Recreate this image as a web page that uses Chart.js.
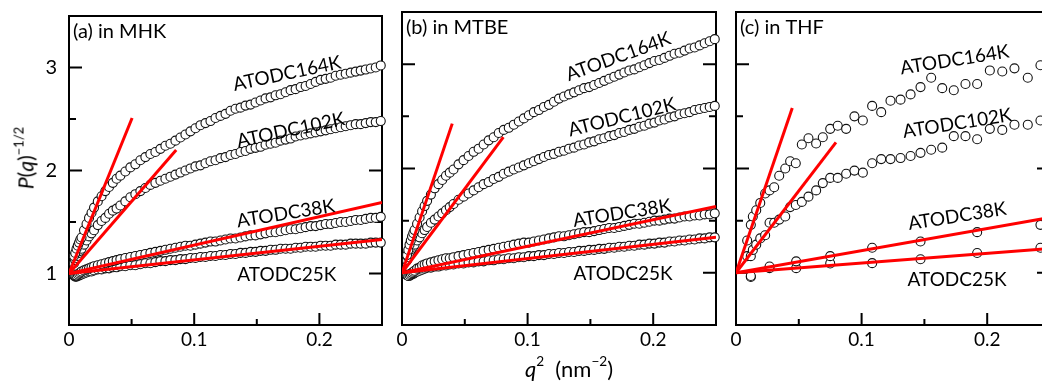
<!DOCTYPE html>
<html>
<head>
<meta charset="utf-8">
<script src="https://cdn.jsdelivr.net/npm/chart.js@4.4.1/dist/chart.umd.min.js"></script>
<style>
  html, body { margin: 0; padding: 0; background: #fff; overflow: hidden; width: 1042px; height: 382px; }
  canvas { position: absolute; left: 0; top: 0; }
  .ttl { position: absolute; font-family: Lato, sans-serif; color: #000; white-space: nowrap; }
  #ytitle { left: 25px; top: 158px; font-size: 21px; transform: translate(-50%, -50%) rotate(-90deg); }
  #xtitle { left: 569px; top: 368px; font-size: 22px; transform: translate(-50%, -50%); }
  .ttl sup { font-size: 0.62em; vertical-align: 0.75em; line-height: 0; }
</style>
</head>
<body>
<canvas id="panelA" width="1060" height="382"></canvas>
<canvas id="panelB" width="1060" height="382"></canvas>
<canvas id="panelC" width="1060" height="382"></canvas>
<div class="ttl" id="ytitle"><i>P</i>(<i>q</i>)<sup>&minus;1/2</sup></div>
<div class="ttl" id="xtitle"><i>q</i><sup>2</sup>&nbsp;&nbsp;(nm<sup>&minus;2</sup>)</div>
<script>
// q^2 (nm^-2) for the dense sets in MHK and MTBE
const qA = [
  0.004, 0.005, 0.006, 0.007, 0.008, 0.009, 0.010,
  0.012, 0.014, 0.016, 0.018, 0.020,
  0.023, 0.026, 0.029, 0.032, 0.035, 0.038, 0.041,
  0.045, 0.049, 0.053, 0.057, 0.061, 0.065, 0.069, 0.073, 0.077, 0.081,
  0.085, 0.089, 0.093, 0.097, 0.101, 0.105, 0.109, 0.113, 0.117, 0.121,
  0.125, 0.129, 0.133, 0.137, 0.141, 0.145, 0.149, 0.153, 0.157, 0.161,
  0.165, 0.169, 0.173, 0.177, 0.181, 0.185, 0.189, 0.193, 0.197, 0.201,
  0.205, 0.209, 0.213, 0.217, 0.221, 0.225, 0.229, 0.233, 0.237, 0.241,
  0.245, 0.249
];

// (a) in MHK
const mhk164 = [
  1.17, 1.20, 1.24, 1.27, 1.30, 1.33, 1.35,
  1.42, 1.48, 1.54, 1.59, 1.64,
  1.70, 1.75, 1.80, 1.84, 1.88, 1.92, 1.95,
  1.99, 2.03, 2.06, 2.10, 2.13, 2.16, 2.18, 2.21, 2.24, 2.26,
  2.29, 2.32, 2.35, 2.38, 2.41, 2.44, 2.46, 2.48, 2.51, 2.53,
  2.55, 2.58, 2.60, 2.61, 2.63, 2.64, 2.66, 2.68, 2.70, 2.71,
  2.73, 2.74, 2.76, 2.78, 2.79, 2.81, 2.82, 2.84, 2.86, 2.88,
  2.89, 2.90, 2.92, 2.93, 2.94, 2.95, 2.96, 2.97, 2.98, 2.99,
  3.00, 3.02
];
const mhk102 = [
  1.10, 1.13, 1.15, 1.17, 1.20, 1.22, 1.24,
  1.28, 1.32, 1.36, 1.39, 1.42,
  1.47, 1.51, 1.54, 1.58, 1.61, 1.63, 1.66,
  1.70, 1.74, 1.77, 1.80, 1.83, 1.86, 1.88, 1.90, 1.92, 1.94,
  1.96, 1.98, 2.00, 2.02, 2.04, 2.05, 2.07, 2.09, 2.10, 2.12,
  2.13, 2.15, 2.16, 2.18, 2.19, 2.21, 2.22, 2.23, 2.25, 2.26,
  2.27, 2.29, 2.30, 2.31, 2.33, 2.34, 2.35, 2.36, 2.37, 2.38,
  2.39, 2.40, 2.41, 2.42, 2.43, 2.44, 2.45, 2.45, 2.46, 2.47,
  2.47, 2.48
];
const mhk38 = [
  0.99, 0.98, 0.98, 0.99, 1.00, 1.01, 1.02,
  1.03, 1.04, 1.05, 1.06, 1.07,
  1.08, 1.09, 1.10, 1.11, 1.12, 1.13, 1.14,
  1.15, 1.16, 1.17, 1.18, 1.19, 1.20, 1.21, 1.22, 1.23, 1.24,
  1.25, 1.26, 1.27, 1.27, 1.28, 1.29, 1.30, 1.31, 1.31, 1.32,
  1.33, 1.34, 1.34, 1.35, 1.36, 1.37, 1.37, 1.38, 1.39, 1.40,
  1.40, 1.41, 1.42, 1.43, 1.43, 1.44, 1.45, 1.46, 1.46, 1.47,
  1.48, 1.48, 1.49, 1.50, 1.50, 1.51, 1.52, 1.52, 1.53, 1.54,
  1.54, 1.55
];
const mhk25 = [
  0.98, 0.97, 0.97, 0.98, 0.98, 0.99, 0.99,
  1.00, 1.01, 1.02, 1.02, 1.03,
  1.04, 1.04, 1.05, 1.05, 1.06, 1.06, 1.07,
  1.07, 1.08, 1.08, 1.09, 1.10, 1.10, 1.11, 1.12, 1.12, 1.13,
  1.13, 1.14, 1.14, 1.15, 1.15, 1.16, 1.16, 1.17, 1.17, 1.18,
  1.18, 1.19, 1.19, 1.20, 1.20, 1.21, 1.21, 1.22, 1.22, 1.23,
  1.23, 1.24, 1.24, 1.24, 1.25, 1.25, 1.26, 1.26, 1.26, 1.27,
  1.27, 1.27, 1.28, 1.28, 1.28, 1.29, 1.29, 1.29, 1.29, 1.30,
  1.30, 1.30
];

// (b) in MTBE
const mtbe164 = [
  1.17, 1.22, 1.27, 1.31, 1.35, 1.38, 1.41,
  1.47, 1.53, 1.59, 1.64, 1.69,
  1.75, 1.81, 1.85, 1.89, 1.93, 1.96, 1.99,
  2.04, 2.08, 2.12, 2.16, 2.19, 2.23, 2.27, 2.30, 2.34, 2.37,
  2.39, 2.42, 2.45, 2.48, 2.51, 2.54, 2.56, 2.59, 2.61, 2.64,
  2.67, 2.69, 2.71, 2.73, 2.75, 2.77, 2.78, 2.80, 2.82, 2.84,
  2.86, 2.88, 2.90, 2.92, 2.94, 2.95, 2.97, 2.99, 3.01, 3.03,
  3.04, 3.06, 3.08, 3.10, 3.11, 3.13, 3.15, 3.16, 3.18, 3.20,
  3.22, 3.24
];
const mtbe102 = [
  1.12, 1.15, 1.18, 1.21, 1.23, 1.25, 1.27,
  1.31, 1.34, 1.38, 1.41, 1.44,
  1.48, 1.51, 1.54, 1.57, 1.60, 1.63, 1.66,
  1.70, 1.73, 1.76, 1.79, 1.82, 1.85, 1.87, 1.90, 1.92, 1.95,
  1.97, 1.99, 2.01, 2.03, 2.05, 2.07, 2.09, 2.11, 2.13, 2.14,
  2.16, 2.17, 2.19, 2.20, 2.22, 2.23, 2.25, 2.26, 2.28, 2.29,
  2.31, 2.32, 2.34, 2.35, 2.37, 2.38, 2.40, 2.41, 2.43, 2.44,
  2.46, 2.47, 2.49, 2.50, 2.52, 2.53, 2.54, 2.56, 2.57, 2.58,
  2.59, 2.60
];
const mtbe38 = [
  0.98, 0.97, 0.98, 0.99, 1.00, 1.01, 1.02,
  1.04, 1.05, 1.07, 1.08, 1.09,
  1.10, 1.11, 1.12, 1.13, 1.14, 1.14, 1.15,
  1.16, 1.17, 1.18, 1.19, 1.20, 1.21, 1.22, 1.23, 1.24, 1.25,
  1.26, 1.27, 1.28, 1.29, 1.29, 1.30, 1.31, 1.32, 1.33, 1.34,
  1.35, 1.35, 1.36, 1.37, 1.38, 1.39, 1.39, 1.40, 1.41, 1.42,
  1.43, 1.43, 1.44, 1.45, 1.46, 1.47, 1.47, 1.48, 1.49, 1.50,
  1.50, 1.51, 1.52, 1.52, 1.53, 1.54, 1.54, 1.55, 1.55, 1.56,
  1.56, 1.57
];
const mtbe25 = [
  0.98, 0.97, 0.97, 0.98, 0.99, 0.99, 1.00,
  1.01, 1.02, 1.03, 1.04, 1.05,
  1.05, 1.06, 1.06, 1.07, 1.07, 1.08, 1.08,
  1.09, 1.09, 1.10, 1.10, 1.11, 1.11, 1.12, 1.12, 1.13, 1.13,
  1.14, 1.14, 1.15, 1.15, 1.16, 1.16, 1.17, 1.17, 1.18, 1.18,
  1.19, 1.19, 1.20, 1.20, 1.21, 1.21, 1.22, 1.22, 1.23, 1.23,
  1.24, 1.24, 1.25, 1.25, 1.26, 1.26, 1.27, 1.27, 1.28, 1.28,
  1.29, 1.29, 1.30, 1.30, 1.31, 1.31, 1.32, 1.32, 1.33, 1.33,
  1.34, 1.34
];

// (c) in THF
const qC = [
  0.0089, 0.0118, 0.0134, 0.0161, 0.0193, 0.0232, 0.0267, 0.0304, 0.0344, 0.0392,
  0.0431, 0.0476, 0.0524, 0.0577, 0.0638, 0.0691, 0.0750, 0.0810, 0.0877, 0.0943,
  0.1010, 0.1084, 0.1156, 0.1230, 0.1310, 0.1390, 0.1469, 0.1554, 0.1642, 0.1734,
  0.1827, 0.1920, 0.2021, 0.2120, 0.2217, 0.2323, 0.2424
];
const thf164 = [
  1.31, 1.46, 1.54, 1.60, 1.67, 1.76, 1.79, 1.82, 1.93, 2.00,
  2.07, 2.05, 2.23, 2.29, 2.24, 2.30, 2.38, 2.41, 2.38, 2.50,
  2.46, 2.60, 2.54, 2.65, 2.66, 2.71, 2.78, 2.87, 2.77, 2.75,
  2.81, 2.81, 2.94, 2.93, 2.96, 2.87, 2.99
];
const thf102 = [
  1.16, 1.16, 1.22, 1.27, 1.33, 1.36, 1.48, 1.48, 1.51, 1.54,
  1.63, 1.65, 1.68, 1.73, 1.79, 1.86, 1.91, 1.91, 1.95, 1.98,
  1.96, 2.05, 2.09, 2.09, 2.10, 2.12, 2.15, 2.18, 2.20, 2.31,
  2.31, 2.28, 2.38, 2.37, 2.42, 2.42, 2.46
];
const qCsmall = [0.0118, 0.0267, 0.0479, 0.0750, 0.1084, 0.1469, 0.1920, 0.2424];
const thf38 = [0.97, 1.06, 1.11, 1.16, 1.24, 1.30, 1.39, 1.46];
const thf25 = [0.96, 1.045, 1.045, 1.09, 1.093, 1.13, 1.19, 1.24];

// red initial-slope lines, all start at (0, 1); end points per panel: 164K, 102K, 38K, 25K
const fitX0 = 0, fitY0 = 1;
const fitEndXA = [0.0504, 0.0856, 0.25, 0.25];
const fitEndYA = [2.51, 2.20, 1.69, 1.33];
const fitEndXB = [0.0400, 0.0807, 0.25, 0.25];
const fitEndYB = [2.43, 2.30, 1.635, 1.34];
const fitEndXC = [0.0448, 0.0796, 0.25, 0.25];
const fitEndYC = [2.58, 2.25, 1.53, 1.233];

const xTickLabels = ['0', '0.1', '0.2'];
const yTickLabels = ['1', '2', '3'];
const sampleNames = ['ATODC164K', 'ATODC102K', 'ATODC38K', 'ATODC25K'];

const FONT = 'Lato, "Open Sans", sans-serif';

function pairs(xs, ys) {
  return xs.map((x, i) => ({ x: x, y: ys[i] }));
}

function dots(xs, ys) {
  return {
    data: pairs(xs, ys),
    showLine: false,
    pointRadius: 4.5,
    pointHoverRadius: 4.5,
    pointBackgroundColor: '#fff',
    pointBorderColor: '#111',
    pointBorderWidth: 1.1,
    clip: false,
    order: 2
  };
}

function fitLine(x1, y1) {
  return {
    data: [{ x: fitX0, y: fitY0 }, { x: x1, y: y1 }],
    showLine: true,
    borderColor: '#ff0000',
    borderWidth: 3,
    pointRadius: 0,
    pointHoverRadius: 0,
    order: 1
  };
}

function isMajor(v, step) {
  return Math.abs(v / step - Math.round(v / step)) < 1e-6;
}

const framePlugin = {
  id: 'frame',
  beforeDatasetsDraw(chart) {
    const { ctx, chartArea: a, scales: { x, y } } = chart;
    ctx.save();
    ctx.strokeStyle = '#000';
    ctx.lineWidth = 2;
    ctx.strokeRect(a.left, a.top, a.right - a.left, a.bottom - a.top);
    ctx.beginPath();
    x.ticks.forEach(t => {
      if (t.value <= x.min || t.value >= x.max) return;
      const px = x.getPixelForValue(t.value);
      const len = isMajor(t.value, 0.1) ? 12 : 6;
      ctx.moveTo(px, a.bottom);
      ctx.lineTo(px, a.bottom - len);
    });
    y.ticks.forEach(t => {
      if (t.value <= y.min || t.value >= y.max) return;
      const py = y.getPixelForValue(t.value);
      const len = isMajor(t.value, 1) ? 13 : 7;
      ctx.moveTo(a.left, py);
      ctx.lineTo(a.left + len, py);
      ctx.moveTo(a.right, py);
      ctx.lineTo(a.right - len, py);
    });
    ctx.stroke();
    ctx.restore();
  },
  afterDraw(chart, args, opts) {
    const { ctx, chartArea: a, scales: { x, y } } = chart;
    ctx.save();
    ctx.fillStyle = '#000';
    ctx.font = '20px ' + FONT;
    ctx.textAlign = 'left';
    ctx.textBaseline = 'alphabetic';
    ctx.fillText(opts.tag, a.left + 4, a.top + 22);
    ctx.font = '19px ' + FONT;
    ctx.textAlign = 'center';
    opts.notes.forEach(n => {
      ctx.save();
      ctx.translate(x.getPixelForValue(n.x), y.getPixelForValue(n.y));
      ctx.rotate(n.rot * Math.PI / 180);
      ctx.fillText(n.text, 0, 7);
      ctx.restore();
    });
    ctx.restore();
  }
};

function makePanel(id, left, right, datasets, tag, notes, showY) {
  const canvas = document.getElementById(id);
  return new Chart(canvas, {
    type: 'scatter',
    data: { datasets: datasets },
    options: {
      responsive: false,
      animation: false,
      devicePixelRatio: 1,
      events: [],
      layout: { padding: { left: 0, right: canvas.width - right, top: 12, bottom: 0 } },
      plugins: {
        legend: { display: false },
        tooltip: { enabled: false },
        frame: { tag: tag, notes: notes }
      },
      scales: {
        x: {
          type: 'linear', min: 0, max: 0.25,
          grid: { display: false }, border: { display: false },
          ticks: {
            stepSize: 0.05, padding: -5, color: '#000', maxRotation: 0, autoSkip: false,
            font: { family: FONT, size: 19 },
            callback: v => {
              const s = String(+v.toFixed(2));
              return xTickLabels.includes(s) ? s : '';
            }
          },
          afterFit: s => { s.height = 57; }
        },
        y: {
          type: 'linear', min: 0.5, max: 3.5,
          grid: { display: false }, border: { display: false },
          ticks: {
            display: showY, stepSize: 0.5, padding: 4, color: '#000', autoSkip: false,
            font: { family: FONT, size: 20 },
            callback: v => {
              const s = String(+v.toFixed(1));
              return yTickLabels.includes(s) ? s : '';
            }
          },
          afterFit: s => { s.width = left; }
        }
      }
    },
    plugins: [framePlugin]
  });
}

makePanel('panelA', 69, 382, [
  fitLine(fitEndXA[0], fitEndYA[0]), fitLine(fitEndXA[1], fitEndYA[1]),
  fitLine(fitEndXA[2], fitEndYA[2]), fitLine(fitEndXA[3], fitEndYA[3]),
  dots(qA, mhk164), dots(qA, mhk102), dots(qA, mhk38), dots(qA, mhk25)
], '(a) in MHK', [
  { text: sampleNames[0], x: 0.174, y: 2.95, rot: -12 },
  { text: sampleNames[1], x: 0.177, y: 2.40, rot: -12 },
  { text: sampleNames[2], x: 0.173, y: 1.59, rot: -9 },
  { text: sampleNames[3], x: 0.174, y: 1.00, rot: 0 }
], true);

makePanel('panelB', 402, 716, [
  fitLine(fitEndXB[0], fitEndYB[0]), fitLine(fitEndXB[1], fitEndYB[1]),
  fitLine(fitEndXB[2], fitEndYB[2]), fitLine(fitEndXB[3], fitEndYB[3]),
  dots(qA, mtbe164), dots(qA, mtbe102), dots(qA, mtbe38), dots(qA, mtbe25)
], '(b) in MTBE', [
  { text: sampleNames[0], x: 0.172, y: 3.08, rot: -20 },
  { text: sampleNames[1], x: 0.175, y: 2.50, rot: -14 },
  { text: sampleNames[2], x: 0.175, y: 1.58, rot: -9 },
  { text: sampleNames[3], x: 0.176, y: 1.00, rot: 0 }
], false);

makePanel('panelC', 736, 1050, [
  fitLine(fitEndXC[0], fitEndYC[0]), fitLine(fitEndXC[1], fitEndYC[1]),
  fitLine(fitEndXC[2], fitEndYC[2]), fitLine(fitEndXC[3], fitEndYC[3]),
  dots(qC, thf164), dots(qC, thf102), dots(qCsmall, thf38), dots(qCsmall, thf25)
], '(c) in THF', [
  { text: sampleNames[0], x: 0.174, y: 3.05, rot: -9 },
  { text: sampleNames[1], x: 0.176, y: 2.44, rot: -9 },
  { text: sampleNames[2], x: 0.176, y: 1.55, rot: -9 },
  { text: sampleNames[3], x: 0.176, y: 0.94, rot: 0 }
], false);
</script>
</body>
</html>
